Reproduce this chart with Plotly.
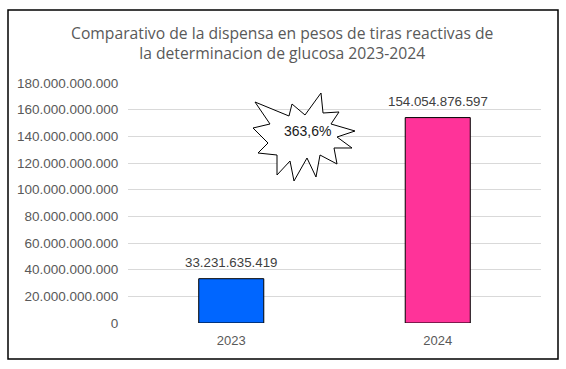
import plotly.graph_objects as go

categories = ["2023", "2024"]
values = [33231635419, 154054876597]
bar_colors = ["#0066FF", "#FF3399"]
value_labels = ["33.231.635.419", "154.054.876.597"]
growth_label = "363,6%"
title_text = "Comparativo de la dispensa en pesos de tiras reactivas de<br>la determinacion de glucosa 2023-2024"
tick_vals = [0, 20e9, 40e9, 60e9, 80e9, 100e9, 120e9, 140e9, 160e9, 180e9]
tick_text = ["0", "20.000.000.000", "40.000.000.000", "60.000.000.000", "80.000.000.000",
             "100.000.000.000", "120.000.000.000", "140.000.000.000", "160.000.000.000",
             "180.000.000.000"]

W, H = 566, 369
ML, MR, MT, MB = 128, 25, 83, 46
PW, PH = W - ML - MR, H - MT - MB


def px2paper(px, py):
    return (px - ML) / PW, (H - MB - py) / PH


star_px = [(255, 102), (289, 116), (292, 104), (305, 115), (321, 93), (323, 113), (339, 112),
           (331, 124), (355, 131), (337, 137), (352, 148), (334, 148), (337, 164), (320, 155),
           (316, 177), (307, 158), (294, 181), (290, 161), (277, 175), (277, 155), (258, 153),
           (268, 143), (253, 128), (270, 124)]
pts = [px2paper(x, y) for x, y in star_px]
star_path = "M " + " L ".join(f"{x:.4f},{y:.4f}" for x, y in pts) + " Z"

fig = go.Figure()
fig.add_trace(go.Bar(
    x=categories, y=values,
    marker=dict(color=bar_colors, line=dict(color="black", width=1)),
    hoverinfo="skip",
))
for i, (v, lab) in enumerate(zip(values, value_labels)):
    fig.add_annotation(x=i, y=v, xref="x", yref="y", text=lab, showarrow=False,
                       xanchor="center", yanchor="bottom", yshift=7,
                       font=dict(family="Liberation Sans, Arial", size=13.3, color="#404040"))

bx0, by0 = px2paper(8, 359)
bx1, by1 = px2paper(558, 10)
tx, ty = px2paper(282, 43)
sx, sy = px2paper(307, 131)

fig.update_layout(
    width=W, height=H,
    margin=dict(l=ML, r=MR, t=MT, b=MB, pad=0),
    paper_bgcolor="white", plot_bgcolor="white",
    showlegend=False,
    bargap=0.685,
    xaxis=dict(type="category", range=[-0.5, 1.5], showgrid=False, showline=False,
               ticks="outside", ticklen=5,
               tickcolor="rgba(0,0,0,0)", zeroline=False, automargin=False,
               tickfont=dict(family="Liberation Sans, Arial", size=13, color="#595959")),
    yaxis=dict(range=[0, 180e9], tickvals=tick_vals, ticktext=tick_text,
               showgrid=True, gridcolor="#d9d9d9", gridwidth=1, zeroline=False,
               showline=False, ticks="outside", ticklen=6, tickcolor="rgba(0,0,0,0)",
               automargin=False,
               tickfont=dict(family="Liberation Sans, Arial", size=13.5, color="#595959")),
    shapes=[
        dict(type="rect", xref="paper", yref="paper", x0=bx0, y0=by0, x1=bx1, y1=by1,
             line=dict(color="black", width=1.5), fillcolor="rgba(0,0,0,0)", layer="above"),
        dict(type="path", xref="paper", yref="paper", path=star_path,
             line=dict(color="black", width=1), fillcolor="white", layer="above"),
    ],
)
fig.add_annotation(text=title_text, xref="paper", yref="paper", x=tx, y=ty, showarrow=False,
                   xanchor="center", yanchor="middle", align="center",
                   font=dict(family="Open Sans", size=15.7, color="#595959"))
fig.add_annotation(text=growth_label, xref="paper", yref="paper", x=sx, y=sy,
                   showarrow=False, xanchor="center", yanchor="middle",
                   font=dict(family="Liberation Sans, Arial", size=14, color="#1a1a1a"))

fig.write_html("out.html", config={"displayModeBar": False},
               post_script="document.body.style.margin='0';document.body.style.overflow='hidden';")
